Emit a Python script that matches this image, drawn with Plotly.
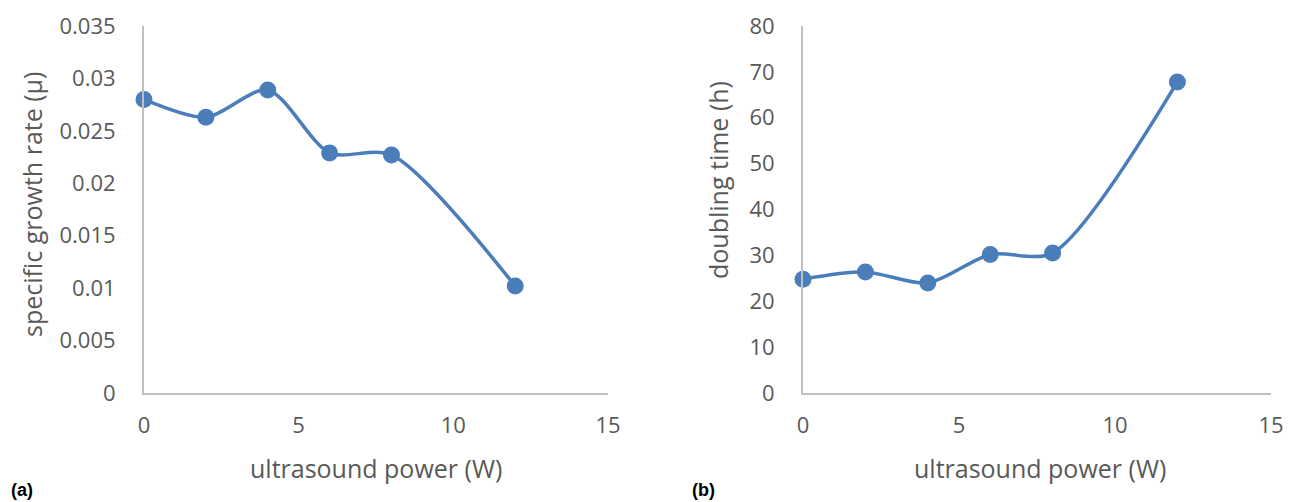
import plotly.graph_objects as go

power = [0, 2, 4, 6, 8, 12]
growth_rate = [0.0280, 0.0263, 0.0289, 0.0229, 0.0227, 0.0102]
doubling_time = [24.8, 26.4, 24.0, 30.2, 30.5, 67.8]

x_ticks = [0, 5, 10, 15]
y1_ticks = [0, 0.005, 0.01, 0.015, 0.02, 0.025, 0.03, 0.035]
y1_labels = ["0", "0.005", "0.01", "0.015", "0.02", "0.025", "0.03", "0.035"]
y2_ticks = [0, 10, 20, 30, 40, 50, 60, 70, 80]

W, H = 1308, 502
BLUE = "#4a7ebb"
GRAY_TXT = "#595959"
AXIS = "#bfbfbf"
FONT = "Open Sans"

def px(x):
    return x / W

def py(y):
    return 1 - y / H

fig = go.Figure()
fig.add_trace(go.Scatter(x=power, y=growth_rate, mode="lines+markers",
                         line=dict(color=BLUE, width=3.5, shape="spline", smoothing=0.8),
                         marker=dict(color=BLUE, size=17), cliponaxis=False,
                         xaxis="x", yaxis="y", showlegend=False))
fig.add_trace(go.Scatter(x=power, y=doubling_time, mode="lines+markers",
                         line=dict(color=BLUE, width=3.5, shape="spline", smoothing=0.8),
                         marker=dict(color=BLUE, size=17), cliponaxis=False,
                         xaxis="x2", yaxis="y2", showlegend=False))

ydom = [py(393), py(26)]
common_x = dict(range=[0, 15], tickvals=x_ticks, showgrid=False, zeroline=False,
                showline=True, linecolor=AXIS, linewidth=2, ticks="", automargin=False,
                tickfont=dict(family=FONT, size=22, color=GRAY_TXT), ticklabelstandoff=12,
                fixedrange=True)
common_y = dict(showgrid=False, zeroline=False, showline=True, linecolor=AXIS, linewidth=2,
                ticks="", automargin=False, tickfont=dict(family=FONT, size=22, color=GRAY_TXT),
                ticklabelstandoff=22, fixedrange=True)

fig.update_layout(
    width=W, height=H,
    margin=dict(l=0, r=0, t=0, b=0, pad=0, autoexpand=False),
    paper_bgcolor="white", plot_bgcolor="white", showlegend=False,
    xaxis=dict(domain=[px(144), px(608)], anchor="y", **common_x),
    yaxis=dict(domain=ydom, anchor="x", range=[0, 0.035], tickvals=y1_ticks,
               ticktext=y1_labels, **common_y),
    xaxis2=dict(domain=[px(803), px(1271)], anchor="y2", **common_x),
    yaxis2=dict(domain=ydom, anchor="x2", range=[0, 80], tickvals=y2_ticks, **common_y),
)

ann_font = dict(family=FONT, size=25, color=GRAY_TXT)
annotations = [
    dict(text="ultrasound power (W)", x=px(376), y=py(468), font=ann_font),
    dict(text="ultrasound power (W)", x=px(1040), y=py(468), font=ann_font),
    dict(text="specific growth rate (µ)", x=px(32), y=py(205), textangle=-90, font=ann_font),
    dict(text="doubling time (h)", x=px(718), y=py(180), textangle=-90, font=ann_font),
    dict(text="<b>(a)</b>", x=px(22), y=py(490), font=dict(family="Liberation Sans", size=18, color="black")),
    dict(text="<b>(b)</b>", x=px(704), y=py(490), font=dict(family="Liberation Sans", size=18, color="black")),
]
for a in annotations:
    a.update(xref="paper", yref="paper", showarrow=False, xanchor="center", yanchor="middle")
fig.update_layout(annotations=annotations)

fig.write_html("out.html", config={"displayModeBar": False})
